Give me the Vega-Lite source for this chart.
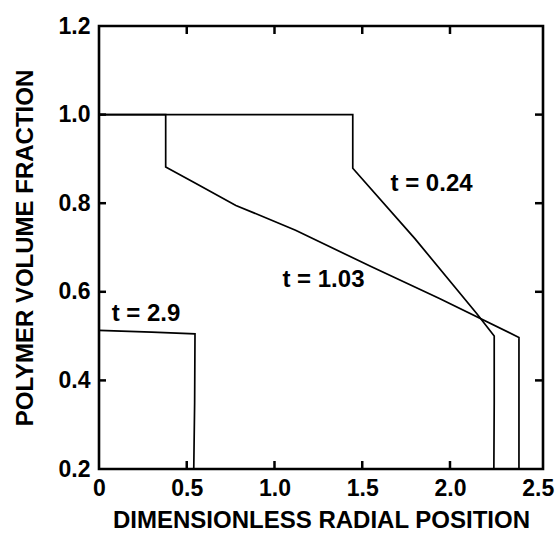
{
  "$schema": "https://vega.github.io/schema/vega-lite/v6.json",
  "autosize": "none",
  "width": 444,
  "height": 443,
  "padding": {"left": 99, "top": 26, "right": 13, "bottom": 65},
  "background": "white",
  "config": {
    "view": {"stroke": "black", "strokeWidth": 2.6},
    "font": "Liberation Sans",
    "axis": {
      "domain": false,
      "grid": false,
      "ticks": false,
      "labelFont": "Liberation Sans",
      "labelFontWeight": "bold",
      "labelFontSize": 23,
      "labelColor": "black",
      "titleFont": "Liberation Sans",
      "titleFontWeight": "bold",
      "titleFontSize": 24,
      "titleColor": "black"
    }
  },
  "datasets": {
    "curves": [
      {"series": "t = 0.24", "i": 1, "x": 0.0, "y": 1.0},
      {"series": "t = 0.24", "i": 2, "x": 1.446, "y": 1.0},
      {"series": "t = 0.24", "i": 3, "x": 1.446, "y": 0.879},
      {"series": "t = 0.24", "i": 4, "x": 1.8, "y": 0.72},
      {"series": "t = 0.24", "i": 5, "x": 2.152, "y": 0.551},
      {"series": "t = 0.24", "i": 6, "x": 2.252, "y": 0.5},
      {"series": "t = 0.24", "i": 7, "x": 2.252, "y": 0.35},
      {"series": "t = 0.24", "i": 8, "x": 2.25, "y": 0.2},
      {"series": "t = 1.03", "i": 1, "x": 0.0, "y": 1.0},
      {"series": "t = 1.03", "i": 2, "x": 0.38, "y": 1.0},
      {"series": "t = 1.03", "i": 3, "x": 0.38, "y": 0.882},
      {"series": "t = 1.03", "i": 4, "x": 0.55, "y": 0.845},
      {"series": "t = 1.03", "i": 5, "x": 0.78, "y": 0.795},
      {"series": "t = 1.03", "i": 6, "x": 1.12, "y": 0.739},
      {"series": "t = 1.03", "i": 7, "x": 1.55, "y": 0.657},
      {"series": "t = 1.03", "i": 8, "x": 1.94, "y": 0.585},
      {"series": "t = 1.03", "i": 9, "x": 2.393, "y": 0.497},
      {"series": "t = 1.03", "i": 10, "x": 2.393, "y": 0.2},
      {"series": "t = 2.9", "i": 1, "x": 0.0, "y": 0.513},
      {"series": "t = 2.9", "i": 2, "x": 0.3, "y": 0.509},
      {"series": "t = 2.9", "i": 3, "x": 0.547, "y": 0.505},
      {"series": "t = 2.9", "i": 4, "x": 0.545, "y": 0.35},
      {"series": "t = 2.9", "i": 5, "x": 0.54, "y": 0.2}
    ],
    "labels": [
      {"text": "t = 0.24", "x": 1.895, "y": 0.843},
      {"text": "t = 1.03", "x": 1.279, "y": 0.627},
      {"text": "t = 2.9", "x": 0.268, "y": 0.549}
    ],
    "xticks": [{"v": 0.5}, {"v": 1.0}, {"v": 1.5}, {"v": 2.0}],
    "yticks": [{"v": 0.4}, {"v": 0.6}, {"v": 0.8}, {"v": 1.0}]
  },
  "layer": [
    {
      "data": {"name": "curves"},
      "mark": {"type": "line", "color": "black", "strokeWidth": 1.7, "interpolate": "linear"},
      "encoding": {
        "x": {
          "field": "x", "type": "quantitative",
          "scale": {"domain": [0, 2.53], "nice": false, "zero": false},
          "axis": {
            "orient": "bottom",
            "values": [0, 0.5, 1, 1.5, 2, 2.5],
            "labelExpr": "datum.value == 0 ? '0' : format(datum.value, '.1f')",
            "labelPadding": 8,
            "labelFlush": false,
            "title": "DIMENSIONLESS RADIAL POSITION",
            "titleBaseline": "alphabetic",
            "titleY": 58,
            "titleX": 222
          }
        },
        "y": {
          "field": "y", "type": "quantitative",
          "scale": {"domain": [0.2, 1.2], "nice": false, "zero": false},
          "axis": {
            "orient": "left",
            "values": [0.2, 0.4, 0.6, 0.8, 1.0, 1.2],
            "format": ".1f",
            "labelPadding": 9,
            "labelFlush": false,
            "title": "POLYMER VOLUME FRACTION",
            "titleBaseline": "alphabetic",
            "titleX": -67,
            "titleY": 221.5
          }
        },
        "detail": {"field": "series", "type": "nominal"},
        "order": {"field": "i", "type": "quantitative"}
      }
    },
    {
      "data": {"name": "xticks"},
      "mark": {"type": "tick", "color": "black", "orient": "vertical", "size": 8, "thickness": 2.5, "yOffset": -4, "opacity": 1},
      "encoding": {
        "x": {"field": "v", "type": "quantitative", "axis": null},
        "y": {"datum": 0.2, "type": "quantitative", "axis": null}
      }
    },
    {
      "data": {"name": "xticks"},
      "mark": {"type": "tick", "color": "black", "orient": "vertical", "size": 8, "thickness": 2.5, "yOffset": 4, "opacity": 1},
      "encoding": {
        "x": {"field": "v", "type": "quantitative", "axis": null},
        "y": {"datum": 1.2, "type": "quantitative", "axis": null}
      }
    },
    {
      "data": {"name": "yticks"},
      "mark": {"type": "tick", "color": "black", "orient": "horizontal", "size": 7, "thickness": 2.5, "xOffset": 3.5, "opacity": 1},
      "encoding": {
        "y": {"field": "v", "type": "quantitative", "axis": null},
        "x": {"datum": 0, "type": "quantitative", "axis": null}
      }
    },
    {
      "data": {"name": "yticks"},
      "mark": {"type": "tick", "color": "black", "orient": "horizontal", "size": 8, "thickness": 2.5, "xOffset": -4, "opacity": 1},
      "encoding": {
        "y": {"field": "v", "type": "quantitative", "axis": null},
        "x": {"datum": 2.53, "type": "quantitative", "axis": null}
      }
    },
    {
      "data": {"name": "labels"},
      "mark": {"type": "text", "font": "Liberation Sans", "fontWeight": "bold", "fontSize": 24, "color": "black", "align": "center", "baseline": "middle"},
      "encoding": {
        "x": {"field": "x", "type": "quantitative", "axis": null},
        "y": {"field": "y", "type": "quantitative", "axis": null},
        "text": {"field": "text", "type": "nominal"}
      }
    }
  ],
  "resolve": {"axis": {"x": "independent", "y": "independent"}}
}
